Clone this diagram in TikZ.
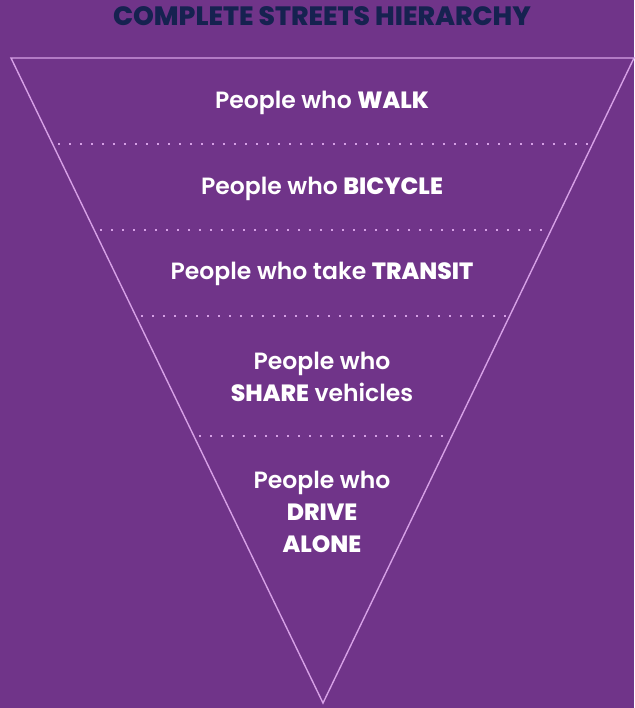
\documentclass[tikz,border=0pt]{standalone}
\usepackage{fontspec}
\setmainfont{Poppins}[UprightFont={Poppins SemiBold},BoldFont={Poppins ExtraBold}]
\newfontfamily\titlefont{Poppins ExtraBold}
\definecolor{bgpurple}{RGB}{112,52,137}
\definecolor{linelav}{RGB}{214,160,230}
\definecolor{titlenavy}{RGB}{22,34,80}
\begin{document}
\begin{tikzpicture}[x=1pt,y=-1pt,
  tier/.style={text=white,font=\fontsize{23.5}{32}\selectfont,align=center},
  edge/.style={draw=linelav,line width=1.4pt},
  divider/.style={draw=linelav,line width=2.2pt,dash pattern=on 2.2pt off 8.8pt}]
\fill[bgpurple] (0,0) rectangle (634,708);
\useasboundingbox (0,0) rectangle (634,708);
\node[text=titlenavy,font=\titlefont\fontsize{26.5}{28}\selectfont] (title) at (322,16) {COMPLETE STREETS HIERARCHY};
\coordinate (tl) at (11,58);
\coordinate (tr) at (634,58);
\coordinate (ap) at (323,703);
\draw[edge,line join=miter] (tl) -- (tr) -- (ap) -- cycle;
\coordinate (d1l) at (58,144); \coordinate (d1r) at (590,144);
\coordinate (d2l) at (100,230); \coordinate (d2r) at (548,230);
\coordinate (d3l) at (141,316); \coordinate (d3r) at (506,316);
\coordinate (d4l) at (199,436); \coordinate (d4r) at (448,436);
\draw[divider] (d1l) -- (d1r);
\draw[divider] (d2l) -- (d2r);
\draw[divider] (d3l) -- (d3r);
\draw[divider] (d4l) -- (d4r);
\node[tier] (walk) at (322,103) {People who \textbf{WALK}};
\node[tier] (bike) at (322,189) {People who \textbf{BICYCLE}};
\node[tier] (transit) at (322,274) {People who take \textbf{TRANSIT}};
\node[tier] (share) at (322,377) {People who\\\textbf{SHARE} vehicles};
\node[tier] (drive) at (322,512) {People who\\\textbf{DRIVE}\\\textbf{ALONE}};
\end{tikzpicture}
\end{document}
